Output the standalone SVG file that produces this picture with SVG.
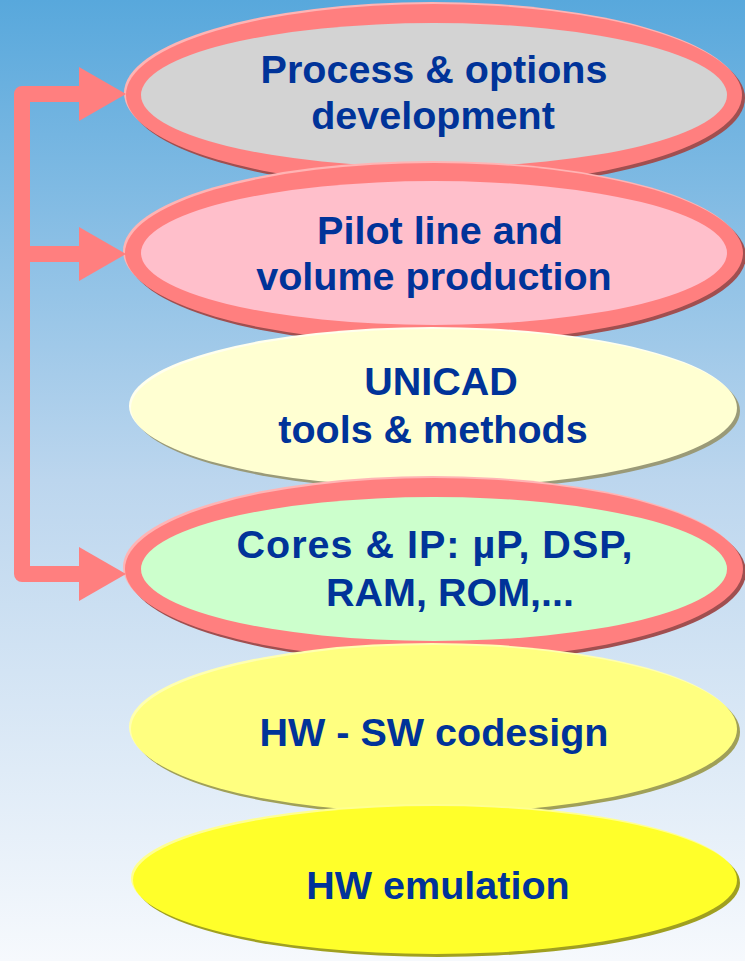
<svg xmlns="http://www.w3.org/2000/svg" width="745" height="961" viewBox="0 0 745 961">
  <defs>
    <linearGradient id="bg" x1="0" y1="0" x2="0" y2="1">
      <stop offset="0" stop-color="#58a8dc"/>
      <stop offset="0.5" stop-color="#bcd6ee"/>
      <stop offset="1" stop-color="#f6f9fd"/>
    </linearGradient>
  </defs>
  <style>
    .lbl { font-family: "Liberation Sans", Arial, sans-serif; font-weight: bold; font-size: 39.5px; fill: #003399; text-anchor: middle; }
    .wide { letter-spacing: 1px; }
    .ring { fill: #ff7f7f; }
    .ringhi { fill: #ffb4b4; }
    .ringsh { fill: #a04f50; }
    .conn { fill: none; stroke: #ff7f7f; stroke-width: 16; stroke-linejoin: round; }
    .head { fill: #ff7f7f; }
  </style>

  <rect x="0" y="0" width="745" height="961" fill="url(#bg)"/>

  <g id="process">
    <ellipse class="ringsh" cx="437" cy="98" rx="308" ry="91"/>
    <ellipse class="ringhi" cx="432" cy="93" rx="308" ry="91"/>
    <ellipse class="ring" cx="434" cy="95" rx="308" ry="91"/>
    <ellipse cx="434" cy="95" rx="293" ry="72" fill="#d3d3d3"/>
    <text class="lbl" x="434" y="83">Process &amp; options</text>
    <text class="lbl" x="433" y="129">development</text>
  </g>

  <g id="pilot">
    <ellipse class="ringsh" cx="437" cy="256" rx="309" ry="90"/>
    <ellipse class="ringhi" cx="432" cy="251" rx="309" ry="90"/>
    <ellipse class="ring" cx="434" cy="253" rx="309" ry="90"/>
    <ellipse cx="434" cy="253" rx="293" ry="72" fill="#ffbfcb"/>
    <text class="lbl" x="440" y="244">Pilot line and</text>
    <text class="lbl" x="434" y="290">volume production</text>
  </g>

  <g id="unicad">
    <ellipse cx="437" cy="411" rx="303" ry="79" fill="#9a9a78"/>
    <ellipse cx="432" cy="406" rx="303" ry="79" fill="#ffffee"/>
    <ellipse cx="434" cy="408" rx="303" ry="79" fill="#ffffd2"/>
    <text class="lbl" x="441" y="395">UNICAD</text>
    <text class="lbl" x="433" y="443">tools &amp; methods</text>
  </g>

  <g id="cores">
    <ellipse class="ringsh" cx="437" cy="572" rx="309" ry="91"/>
    <ellipse class="ringhi" cx="432" cy="567" rx="309" ry="91"/>
    <ellipse class="ring" cx="434" cy="569" rx="309" ry="91"/>
    <ellipse cx="434" cy="569" rx="293" ry="72" fill="#ccffcc"/>
    <text class="lbl wide" x="435" y="558">Cores &amp; IP: µP, DSP,</text>
    <text class="lbl" x="450" y="606">RAM, ROM,...</text>
  </g>

  <g id="codesign">
    <ellipse cx="437" cy="732" rx="303" ry="84" fill="#a0a058"/>
    <ellipse cx="432" cy="727" rx="303" ry="84" fill="#ffffb0"/>
    <ellipse cx="434" cy="729" rx="303" ry="84" fill="#ffff80"/>
    <text class="lbl" x="434" y="746">HW - SW codesign</text>
  </g>

  <g id="emulation">
    <ellipse cx="438" cy="883" rx="302" ry="74" fill="#a0a020"/>
    <ellipse cx="433" cy="878" rx="302" ry="74" fill="#ffff90"/>
    <ellipse cx="435" cy="880" rx="302" ry="74" fill="#ffff2a"/>
    <text class="lbl" x="438" y="899">HW emulation</text>
  </g>

  <!-- feedback connector: one trunk feeding three ellipses -->
  <g id="connectors">
    <path class="conn" d="M80 94 H22 V574 H80 M22 254 H80"/>
    <polygon class="head" points="79,67 126,94 79,121"/>
    <polygon class="head" points="79,227 126,254 79,281"/>
    <polygon class="head" points="79,547 126,574 79,601"/>
  </g>
</svg>
